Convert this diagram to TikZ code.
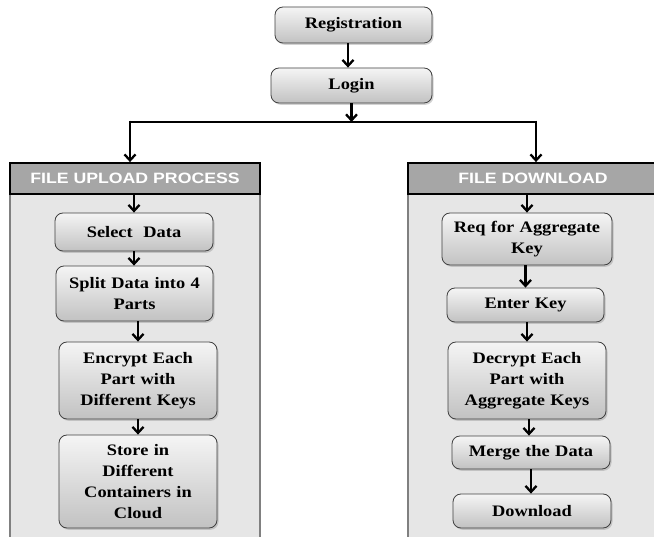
\documentclass[tikz,border=0pt]{standalone}
\usepackage{fontspec}
\setmainfont{Liberation Serif}[FakeStretch=1.15]
\newfontfamily\hdrfont{Liberation Sans}[FakeStretch=1.18]
\usetikzlibrary{arrows.meta,shadows}
\definecolor{panelfill}{HTML}{E6E6E6}
\definecolor{paneledge}{HTML}{808080}
\definecolor{hdrfill}{HTML}{A6A6A6}
\begin{document}
\begin{tikzpicture}[x=1pt,y=-1pt,
  box/.style={draw=black!75, line width=0.8pt, rounded corners=8pt,
    top color=white!96!black, bottom color=black!24, inner sep=2pt,
    drop shadow={shadow xshift=1.5pt, shadow yshift=-1.8pt, opacity=0.35},
    align=center, font=\bfseries\fontsize{16}{21}\selectfont},
  hdr/.style={draw=black, line width=1.8pt, fill=hdrfill, minimum width=250pt,
    minimum height=31pt, inner sep=0pt, text=white,
    font=\hdrfont\bfseries\fontsize{15}{18}\selectfont},
  panel/.style={draw=paneledge, line width=1.8pt, fill=panelfill},
  arr/.style={line width=2.6pt, -{Straight Barb[length=6pt,width=11pt,line width=2.3pt]}},
  conn/.style={line width=2.6pt}]
\useasboundingbox (0,0) rectangle (654,537);
\fill[white] (0,0) rectangle (654,537);
% panels
\draw[panel] (10,194) rectangle (260,545);
\draw[panel] (408,194) rectangle (665,545);
\node[hdr] (hup) at (135,178.5) {FILE UPLOAD PROCESS};
\node[hdr] (hdn) at (533,178.5) {FILE DOWNLOAD};
% top
\node[box, minimum width=157pt, minimum height=36pt, text width=150pt] (reg) at (353.5,25) {Registration};
\node[box, minimum width=161pt, minimum height=35pt, text width=154pt] (log) at (351.5,85.5) {Login};
% left
\node[box, minimum width=158pt, minimum height=38pt, text width=150pt] (sel) at (134,232) {Select\ \ Data};
\node[box, minimum width=157pt, minimum height=55pt, text width=150pt] (spl) at (134.5,293.5) {Split Data into 4\\Parts};
\node[box, minimum width=158pt, minimum height=77pt, text width=150pt] (enc) at (138,380.5) {Encrypt Each\\Part with\\Different Keys};
\node[box, minimum width=158pt, minimum height=93pt, text width=150pt] (sto) at (138,481.5) {Store in\\Different\\Containers in\\Cloud};
% right
\node[box, minimum width=170pt, minimum height=52pt, text width=162pt] (req) at (527,239) {Req for Aggregate\\Key};
\node[box, minimum width=157pt, minimum height=34pt, text width=150pt] (ent) at (525.5,305) {Enter Key};
\node[box, minimum width=158pt, minimum height=77pt, text width=150pt] (dec) at (527,380.5) {Decrypt Each\\Part with\\Aggregate Keys};
\node[box, minimum width=158pt, minimum height=33pt, text width=150pt] (mer) at (531,452.5) {Merge the Data};
\node[box, minimum width=158pt, minimum height=34pt, text width=150pt] (dow) at (532,511) {Download};
% connectors
\coordinate (jn) at (351.5,122);
\coordinate (jl) at (130,122);
\coordinate (jr) at (536,122);
\draw[arr] (reg.south -| 348,0) -- (348,0 |- log.north);
\draw[arr] (log.south) -- (jn);
\draw[conn] (jl) -- (jr);
\draw[arr] ([yshift=1.3pt]jl) -- (jl |- hup.north);
\draw[arr] ([yshift=1.3pt]jr) -- (jr |- hdn.north);
\draw[arr] (sel.north |- hup.south) -- (sel.north);
\draw[arr] (sel.south) -- (sel.south |- spl.north);
\draw[arr] (spl.south -| 138,0) -- (138,0 |- enc.north);
\draw[arr] (enc.south) -- (enc.south |- sto.north);
\draw[arr] (req.north |- hdn.south) -- (req.north);
\draw[arr] (req.south -| 525.5,0) -- (ent.north);
\draw[arr] (ent.south -| 527,0) -- (dec.north);
\draw[arr] (dec.south -| 529,0) -- (529,0 |- mer.north);
\draw[arr] (mer.south -| 531,0) -- (531,0 |- dow.north);
\end{tikzpicture}
\end{document}
